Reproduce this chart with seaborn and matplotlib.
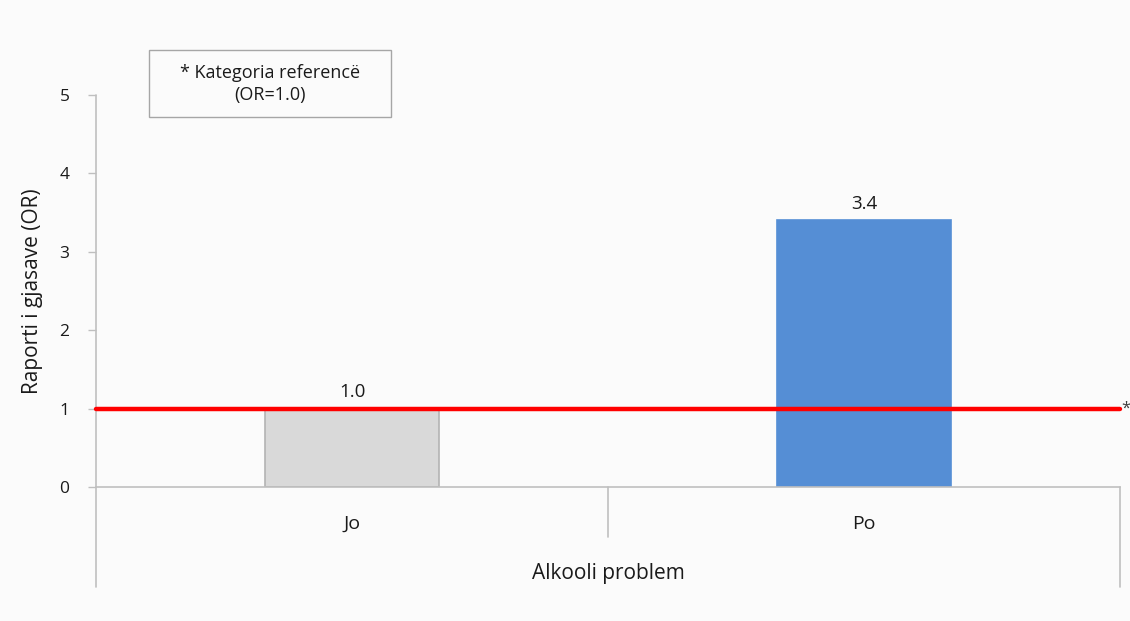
import matplotlib
matplotlib.use("Agg")
import matplotlib.pyplot as plt
import matplotlib.patches as mpatches
import seaborn as sns
import pandas as pd

# Odds ratios by alcohol problem status
categories = ["Jo", "Po"]
odds_ratios = [1.0, 3.4]
reference_or = 1.0
value_labels = ["1.0", "3.4"]
bar_colors = ["#d9d9d9", "#558ed5"]
bar_edges = ["#b3b3b3", "#558ed5"]
y_ticks = [0, 1, 2, 3, 4, 5]

sns.set_theme(style="white")
plt.rcParams["font.family"] = ["Open Sans", "DejaVu Sans"]

bg = "#fbfbfb"
axis_grey = "#bfbfbf"
text_col = "#1a1a1a"

fig = plt.figure(figsize=(11.3, 6.21), dpi=100, facecolor=bg)
ax = fig.add_axes([96 / 1130, 134 / 621, 1024 / 1130, 392 / 621])
ax.set_facecolor(bg)

df = pd.DataFrame({"kategoria": categories, "OR": odds_ratios})
sns.barplot(data=df, x="kategoria", y="OR", hue="kategoria", palette=bar_colors,
            saturation=1, width=0.34, legend=False, ax=ax, linewidth=1.2,
            zorder=2)
for patch, ec in zip(ax.patches, bar_edges):
    patch.set_edgecolor(ec)

ax.set_xlim(-0.5, 1.5)
ax.set_ylim(0, 5)
ax.set_yticks(y_ticks)
ax.set_yticklabels([str(t) for t in y_ticks], fontsize=12.5, color=text_col)
ax.set_xticks(range(len(categories)))
ax.set_xticklabels(categories, fontsize=14, color=text_col)
ax.tick_params(axis="x", length=0, pad=20)
ax.tick_params(axis="y", direction="out", length=6, width=1, color=axis_grey,
               pad=13, left=True)

ax.set_ylabel("Raporti i gjasave (OR)", fontsize=15, color=text_col, labelpad=12)
ax.set_xlabel("Alkooli problem", fontsize=15, color=text_col, labelpad=22)

for side in ["top", "right", "left"]:
    ax.spines[side].set_visible(False)
ax.spines["bottom"].set_color(axis_grey)
ax.spines["bottom"].set_linewidth(1.2)

# Category-axis frame lines (left axis running below zero, divider, right edge)
xt = ax.get_xaxis_transform()
ax.plot([-0.5, -0.5], [1.0, -0.255], transform=xt, color=axis_grey, lw=1.2,
        clip_on=False, zorder=1)
ax.plot([0.5, 0.5], [0.0, -0.128], transform=xt, color=axis_grey, lw=1.2,
        clip_on=False, zorder=1)
ax.plot([1.5, 1.5], [0.0, -0.255], transform=xt, color=axis_grey, lw=1.2,
        clip_on=False, zorder=1)

# Reference line at OR = 1
ax.axhline(reference_or, color="#ff0000", lw=3.2, zorder=3, clip_on=False)
ax.text(1.503, reference_or, "*", transform=ax.transData, fontsize=12,
        color="#404040", va="center", ha="left", clip_on=False)

# Value labels above bars
for i, (v, lab) in enumerate(zip(odds_ratios, value_labels)):
    ax.text(i, v + 0.1, lab, ha="center", va="bottom", fontsize=13.5,
            color=text_col, zorder=4)

# Note box
fig.patches.append(mpatches.Rectangle(
    (149 / 1130, 1 - 117 / 621), 242 / 1130, 67 / 621,
    transform=fig.transFigure, facecolor=bg, edgecolor="#a6a6a6",
    linewidth=1.0))
fig.text(270 / 1130, 1 - 84 / 621, "* Kategoria referencë\n(OR=1.0)",
         ha="center", va="center", fontsize=13, color=text_col,
         linespacing=1.35)

fig.savefig("out.png", dpi=100, facecolor=bg)
